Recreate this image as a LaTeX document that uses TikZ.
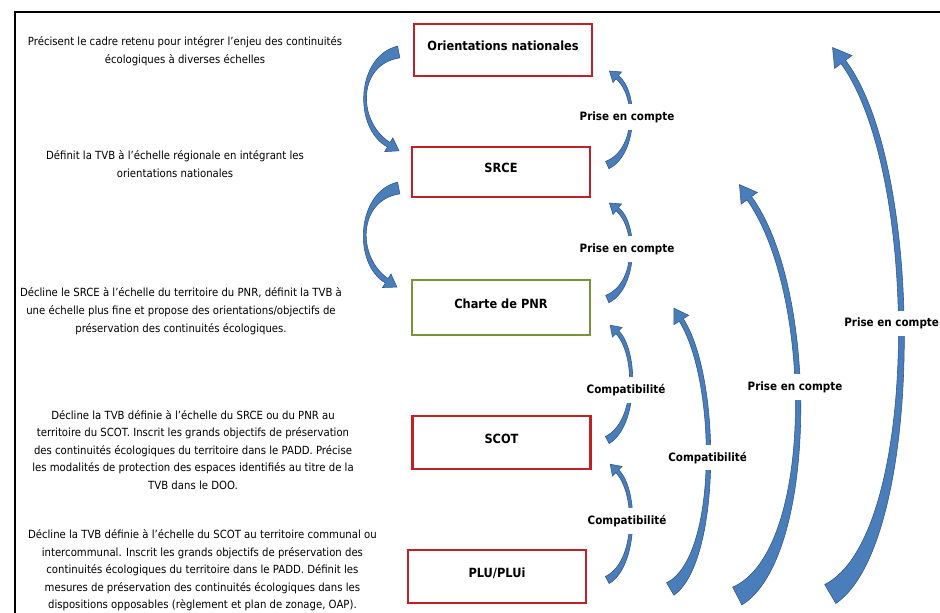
\documentclass[tikz,border=0pt]{standalone}
\usepackage{fontspec}
\setmainfont{DejaVu Sans}[FakeStretch=0.9]
\usetikzlibrary{calc}

\definecolor{boxred}{RGB}{192,32,40}
\definecolor{boxgreen}{RGB}{119,147,60}
\definecolor{arrowblue}{RGB}{74,126,187}
\definecolor{arrowedge}{RGB}{47,85,135}

\tikzset{
	levelbox/.style={rectangle, draw=boxred, line width=1.8pt, minimum width=4.45cm, minimum height=1.3cm, text centered, font=\fontsize{9}{11}\selectfont\bfseries, text height=6pt, text depth=5pt},
	roletext/.style={align=center, font=\fontsize{8}{12.5}\selectfont},
	linklabel/.style={fill=white, inner xsep=1pt, inner ysep=5pt, font=\fontsize{8.2}{10}\selectfont\bfseries}
}

%Tapered curved arrow: tail, tail control offset, end control offset, end,
%tail half width, body half width, end half width, head half width, head length
\newcommand{\bluearrow}[9]{%
	\coordinate (T) at #1;
	\coordinate (E) at #4;
	\coordinate (C1) at ($(T)+#2$);
	\coordinate (C2) at ($(E)+#3$);
	\filldraw[fill=arrowblue, draw=arrowedge, line width=0.4pt]
	($(T)!#5!90:(C1)$) .. controls ($(C1)!#6!-90:(T)$) and ($(C2)!#6!90:(E)$) .. ($(E)!#7!-90:(C2)$)
	-- ($(E)!#8!-90:(C2)$) -- ($(E)!-#9!(C2)$) -- ($(E)!#8!90:(C2)$)
	-- ($(E)!#7!90:(C2)$) .. controls ($(C2)!#6!-90:(E)$) and ($(C1)!#6!90:(T)$) .. ($(T)!#5!-90:(C1)$) -- cycle;
}

\begin{document}
\begin{tikzpicture}
		
		\useasboundingbox (0,0) rectangle (23.5,-15.3);
		\clip (0,0) rectangle (23.5,-15.3);
		
		%Boxes
		\node (orientBox) at (12.575,-1.25) [levelbox] {Orientations nationales};
		\node (srceBox) at (12.525,-4.3) [levelbox, minimum height=1.25cm] {SRCE};
		\node (charteBox) at (12.525,-7.6875) [levelbox, draw=boxgreen, minimum height=1.375cm] {Charte de PNR};
		\node (scotBox) at (12.5375,-11.0625) [levelbox, minimum height=1.325cm] {SCOT};
		\node (pluBox) at (12.425,-14.4125) [levelbox, minimum height=1.325cm] {PLU/PLUi};
		
		%Left texts
		\node (orientText) at (4.625,-1.275) [roletext] {Précisent le cadre retenu pour intégrer l’enjeu des continuités\\écologiques à diverses échelles};
		\node (srceText) at (4.375,-4.1) [roletext] {Définit la TVB à l’échelle régionale en intégrant les\\orientations nationales};
		\node (charteText) at (4.525,-7.78) [roletext] {Décline le SRCE à l’échelle du territoire du PNR, définit la TVB à\\une échelle plus fine et propose des orientations/objectifs de\\préservation des continuités écologiques.};
		\node (scotText) at (4.825,-11.25) [roletext] {Décline la TVB définie à l’échelle du SRCE ou du PNR au\\territoire du SCOT. Inscrit les grands objectifs de préservation\\des continuités écologiques du territoire dans le PADD. Précise\\les modalités de protection des espaces identifiés au titre de la\\TVB dans le DOO.};
		\node (pluText) at (5.06,-14.26) [roletext] {Décline la TVB définie à l’échelle du SCOT au territoire communal ou\\intercommunal. Inscrit les grands objectifs de préservation des\\continuités écologiques du territoire dans le PADD. Définit les\\mesures de préservation des continuités écologiques dans les\\dispositions opposables (règlement et plan de zonage, OAP).};
		
		%Left arrows
		\bluearrow{($(orientBox.west)+(-0.35,-0.05)$)}{(-1.05,-0.2)}{(-0.85,0.5)}{($(srceBox.north west)+(-0.55,0.025)$)}{0.15cm}{0.1cm}{0.065cm}{0.2cm}{0.3cm}
		\bluearrow{($(srceBox.west)+(-0.3,-0.4)$)}{(-1.05,-0.2)}{(-0.8,0.5)}{($(charteBox.north west)+(-0.6,-0.05)$)}{0.15cm}{0.1cm}{0.065cm}{0.2cm}{0.3cm}
		
		%Small right arrows
		\bluearrow{($(srceBox.east)+(0.4,0.175)$)}{(0.75,0.325)}{(0.5,-0.4)}{($(orientBox.south east)+(0.6,0)$)}{0.1cm}{0.065cm}{0.05cm}{0.17cm}{0.25cm}
		\bluearrow{($(charteBox.east)+(0.4,0.2125)$)}{(0.75,0.325)}{(0.5,-0.4)}{($(srceBox.south east)+(0.65,-0.275)$)}{0.1cm}{0.065cm}{0.05cm}{0.17cm}{0.25cm}
		\bluearrow{($(scotBox.east)+(0.3875,0.0625)$)}{(0.75,0.4)}{(0.5,-0.5)}{($(charteBox.south east)+(0.65,0.1)$)}{0.1cm}{0.065cm}{0.05cm}{0.17cm}{0.25cm}
		\bluearrow{($(pluBox.east)+(0.5,-0.0875)$)}{(0.75,0.4)}{(0.5,-0.5)}{($(scotBox.south east)+(0.6375,-0.025)$)}{0.1cm}{0.065cm}{0.05cm}{0.17cm}{0.25cm}
		
		%Big right arrows
		\bluearrow{($(pluBox.east)+(2.075,-0.3125)$)}{(1.225,0.725)}{(0.95,-1.5)}{($(charteBox.east)+(2.25,-0.3125)$)}{0.18cm}{0.075cm}{0.06cm}{0.22cm}{0.35cm}
		\bluearrow{($(pluBox.east)+(3.75,-0.4875)$)}{(1.975,1.025)}{(1.675,-2.325)}{($(srceBox.south east)+(3.95,0)$)}{0.25cm}{0.095cm}{0.07cm}{0.25cm}{0.42cm}
		\bluearrow{($(pluBox.east)+(6.075,-0.4375)$)}{(2.3,1.35)}{(2,-2.7)}{($(orientBox.east)+(6.25,-0.3)$)}{0.275cm}{0.1cm}{0.07cm}{0.27cm}{0.45cm}
		
		%Names
		\node (linkOne) at (15.675,-2.925) [linklabel] {Prise en compte};
		\node (linkTwo) at (15.675,-6.225) [linklabel] {Prise en compte};
		\node (linkThree) at (15.65,-9.75) [linklabel] {Compatibilité};
		\node (linkFour) at (15.675,-13.025) [linklabel] {Compatibilité};
		\node (linkFive) at (17.69,-11.44) [linklabel] {Compatibilité};
		\node (linkSix) at (19.875,-9.675) [linklabel] {Prise en compte};
		\node (linkSeven) at (22.29,-8.085) [linklabel] {Prise en compte};
		
		%Frame
		\draw[line width=1.4pt] (0.375,-15.6) -- (0.375,-0.29) -- (23.8,-0.29);
		
\end{tikzpicture}
\end{document}
